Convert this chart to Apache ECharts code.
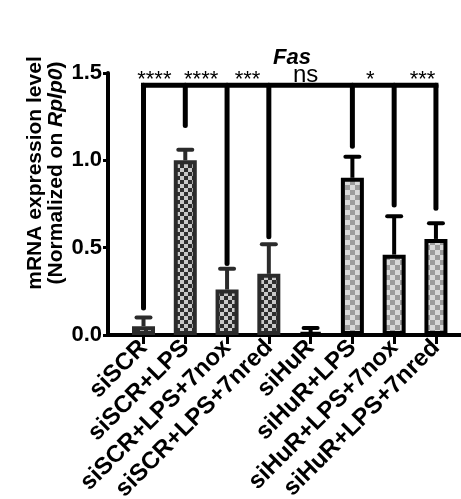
<!DOCTYPE html>
<html>
<head>
<meta charset="utf-8">
<script src="https://cdn.jsdelivr.net/npm/echarts@6/dist/echarts.min.js"></script>
<style>
  html, body { margin: 0; padding: 0; background: #fff; }
  #chart { width: 461px; height: 499px; }
</style>
</head>
<body>
<div id="chart"></div>
<script>
// data
var categories = ['siSCR', 'siSCR+LPS', 'siSCR+LPS+7nox', 'siSCR+LPS+7nred', 'siHuR', 'siHuR+LPS', 'siHuR+LPS+7nox', 'siHuR+LPS+7nred'];
var means = [0.05, 1.0, 0.26, 0.35, 0.015, 0.9, 0.46, 0.55];
var sems = [0.05, 0.06, 0.12, 0.17, 0.025, 0.12, 0.22, 0.09];
// where each significance drop line stops (null = no line)
var dropEnds = [0.155, 1.2, 0.41, 0.563, null, 1.08, 0.744, 0.725];
var bracketLevel = 1.43;
var sigLabels = ['****', '****', '***', 'ns', '*', '***'];
var sigPos = [1.26, 2.38, 3.49, 4.88, 6.43, 7.68];
var yTicks = [0, 0.5, 1.0, 1.5];

var FONT = 'Liberation Sans, Arial, sans-serif';

function checker(c1, c2, s) {
  var cv = document.createElement('canvas');
  cv.width = cv.height = s * 2;
  var ctx = cv.getContext('2d');
  ctx.fillStyle = c2;
  ctx.fillRect(0, 0, s * 2, s * 2);
  ctx.fillStyle = c1;
  ctx.fillRect(0, 0, s, s);
  ctx.fillRect(s, s, s, s);
  return cv;
}
var darkFill = { image: checker('#2e2e2e', '#c9c9c9', 4), repeat: 'repeat' };
var lightFill = { image: checker('#9c9c9c', '#d9d9d9', 5), repeat: 'repeat' };

function edgeColor(i) {
  return i < 4 ? '#2b2b2b' : '#000';
}

var xs = categories.map(function (c, i) { return i + 1; });

var barData = means.map(function (v, i) {
  return {
    value: [xs[i], v],
    itemStyle: { color: i < 4 ? darkFill : lightFill, borderColor: edgeColor(i) }
  };
});
var errData = means.map(function (v, i) { return [xs[i], v, sems[i], i]; });
var dropData = [];
dropEnds.forEach(function (d, i) {
  if (d !== null) dropData.push([xs[i], d]);
});
var sigData = sigPos.map(function (p, i) { return [p, bracketLevel, i]; });

var chart = echarts.init(document.getElementById('chart'));

var option = {
  animation: false,
  backgroundColor: '#fff',
  title: {
    text: 'Fas',
    left: 287,
    top: 42,
    textAlign: 'center',
    textStyle: { fontFamily: FONT, fontSize: 22, fontWeight: 'bold', fontStyle: 'italic', color: '#000' }
  },
  graphic: [{
    type: 'text',
    x: 46,
    y: 173,
    rotation: Math.PI / 2,
    style: {
      text: 'mRNA expression level\n(Normalized on {i|Rplp0})',
      font: 'bold 21px ' + FONT,
      lineHeight: 21,
      textAlign: 'center',
      textVerticalAlign: 'middle',
      fill: '#000',
      rich: {
        i: { fontStyle: 'italic', fontWeight: 'bold', fontSize: 21, fontFamily: FONT, lineHeight: 21 }
      }
    }
  }],
  grid: { left: 108, right: 0, top: 73, bottom: 164, containLabel: false, outerBoundsMode: 'none' },
  xAxis: {
    type: 'value',
    min: 0.15,
    max: 8.6,
    splitLine: { show: false },
    axisLine: { onZero: false, lineStyle: { color: '#000', width: 4 } },
    axisTick: { customValues: xs, length: 9, lineStyle: { color: '#000', width: 3 } },
    axisLabel: {
      customValues: xs,
      rotate: 45,
      margin: 9,
      color: '#000',
      fontFamily: FONT,
      fontWeight: 'bold',
      fontSize: 24,
      formatter: function (v) { return categories[Math.round(v) - 1]; }
    }
  },
  yAxis: {
    type: 'value',
    min: 0,
    max: 1.5,
    interval: 0.5,
    splitLine: { show: false },
    axisLine: { show: true, onZero: false, lineStyle: { color: '#000', width: 4 } },
    axisTick: { show: true, length: 5, lineStyle: { color: '#000', width: 3 } },
    axisLabel: {
      margin: 6,
      color: '#000',
      fontFamily: FONT,
      fontWeight: 'bold',
      fontSize: 22,
      formatter: function (v) { return v.toFixed(1); }
    }
  },
  series: [
    {
      name: 'mean',
      type: 'bar',
      barWidth: 23,
      data: barData,
      itemStyle: { borderWidth: 4 },
      z: 3
    },
    {
      name: 'sem',
      type: 'custom',
      data: errData,
      z: 4,
      renderItem: function (params, api) {
        var x = api.value(0), m = api.value(1), e = api.value(2);
        var idx = api.value(3);
        var base = api.coord([x, m]);
        var top = api.coord([x, m + e]);
        var col = edgeColor(idx);
        return {
          type: 'group',
          children: [
            { type: 'line', shape: { x1: base[0], y1: base[1], x2: top[0], y2: top[1] },
              style: { stroke: col, lineWidth: 4 } },
            { type: 'line', shape: { x1: top[0] - 7, y1: top[1], x2: top[0] + 7, y2: top[1] },
              style: { stroke: col, lineWidth: 4, lineCap: 'round' } }
          ]
        };
      }
    },
    {
      name: 'bracket',
      type: 'custom',
      data: [[xs[0], xs[xs.length - 1]]],
      z: 5,
      renderItem: function (params, api) {
        var a = api.coord([api.value(0), bracketLevel]);
        var b = api.coord([api.value(1), bracketLevel]);
        return { type: 'line', shape: { x1: a[0], y1: a[1], x2: b[0], y2: b[1] },
          style: { stroke: '#000', lineWidth: 5, lineCap: 'square' } };
      }
    },
    {
      name: 'drops',
      type: 'custom',
      data: dropData,
      z: 5,
      renderItem: function (params, api) {
        var x = api.value(0);
        var a = api.coord([x, bracketLevel]);
        var b = api.coord([x, api.value(1)]);
        return { type: 'line', shape: { x1: a[0], y1: a[1], x2: b[0], y2: b[1] },
          style: { stroke: '#000', lineWidth: 5, lineCap: 'round' } };
      }
    },
    {
      name: 'sig',
      type: 'custom',
      data: sigData,
      z: 6,
      renderItem: function (params, api) {
        var p = api.coord([api.value(0), api.value(1)]);
        var label = sigLabels[api.value(2)];
        var star = label.indexOf('*') >= 0;
        return {
          type: 'text',
          x: p[0],
          y: p[1] + (star ? 6 : 2),
          style: {
            text: label,
            textAlign: 'center',
            textVerticalAlign: 'bottom',
            font: (star ? '22px ' : '24px ') + FONT,
            fill: '#000'
          }
        };
      }
    }
  ]
};

chart.setOption(option);
</script>
</body>
</html>
